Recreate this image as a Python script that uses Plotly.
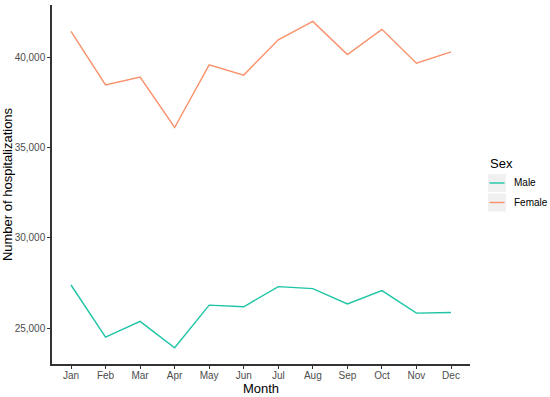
import plotly.graph_objects as go

months = ["Jan", "Feb", "Mar", "Apr", "May", "Jun", "Jul", "Aug", "Sep", "Oct", "Nov", "Dec"]
male = [27390, 24500, 25370, 23910, 26270, 26180, 27300, 27190, 26340, 27080, 25830, 25860]
female = [41470, 38490, 38930, 36130, 39610, 39040, 41000, 42020, 40180, 41580, 39700, 40330]
series_names = ["Male", "Female"]
y_ticks = [25000, 30000, 35000, 40000]
y_tick_text = ["25,000", "30,000", "35,000", "40,000"]

colors = ["#1DC4A5", "#F8916A"]
FONT = "Liberation Sans, Arial, sans-serif"

W, H = 550, 397
L, R, T, B = 52, 80, 5, 33
pw, ph = W - L - R, H - T - B

def px_x(px):
    return (px - L) / pw

def px_y(py):
    return (H - B - py) / ph

fig = go.Figure()
for name, vals, c in zip(series_names, [male, female], colors):
    fig.add_trace(go.Scatter(x=months, y=vals, mode="lines", name=name,
                             line=dict(color=c, width=1.4), showlegend=False))

axis_font = dict(family=FONT, size=10, color="#4D4D4D")
title_font = dict(family=FONT, size=13, color="#000000")

# manual ggplot-style legend
shapes = []
annotations = [dict(text="Sex", x=px_x(488), y=px_y(163), xref="paper", yref="paper",
                    xanchor="left", yanchor="middle", showarrow=False,
                    font=dict(family=FONT, size=13, color="#000"))]
for i, (name, c) in enumerate(zip(series_names, colors)):
    cy = 183 + i * 19.5
    shapes.append(dict(type="rect", xref="paper", yref="paper",
                       x0=px_x(488), x1=px_x(506), y0=px_y(cy - 9), y1=px_y(cy + 9),
                       fillcolor="#F0F0F0", line=dict(width=0), layer="below"))
    shapes.append(dict(type="line", xref="paper", yref="paper",
                       x0=px_x(489.5), x1=px_x(504.5), y0=px_y(cy), y1=px_y(cy),
                       line=dict(color=c, width=1.4)))
    annotations.append(dict(text=name, x=px_x(512), y=px_y(cy), xref="paper", yref="paper",
                            xanchor="left", yanchor="middle", showarrow=False,
                            font=dict(family=FONT, size=10, color="#000")))

fig.update_layout(
    width=W, height=H,
    margin=dict(l=L, r=R, t=T, b=B, autoexpand=False),
    paper_bgcolor="white", plot_bgcolor="white",
    showlegend=False,
    shapes=shapes, annotations=annotations,
    xaxis=dict(
        type="category", categoryorder="array", categoryarray=months,
        range=[-0.55, 11.55], automargin=False,
        showline=True, linecolor="#333333", linewidth=1.5,
        ticks="outside", ticklen=3, tickcolor="#333333", tickwidth=1.2,
        ticklabelstandoff=-2,
        showgrid=False, zeroline=False,
        tickfont=axis_font,
        title=dict(text="Month", font=title_font, standoff=0),
    ),
    yaxis=dict(
        range=[23005, 42930], automargin=False,
        tickvals=y_ticks, ticktext=y_tick_text,
        showline=True, linecolor="#333333", linewidth=1.5,
        ticks="outside", ticklen=3, tickcolor="#333333", tickwidth=1.2,
        showgrid=False, zeroline=False,
        tickfont=axis_font,
        title=dict(text="Number of hospitalizations", font=title_font, standoff=1),
    ),
)

fig.write_html("out.html", config={"displayModeBar": False},
               post_script="document.body.style.margin='0';document.body.style.overflow='hidden';")
